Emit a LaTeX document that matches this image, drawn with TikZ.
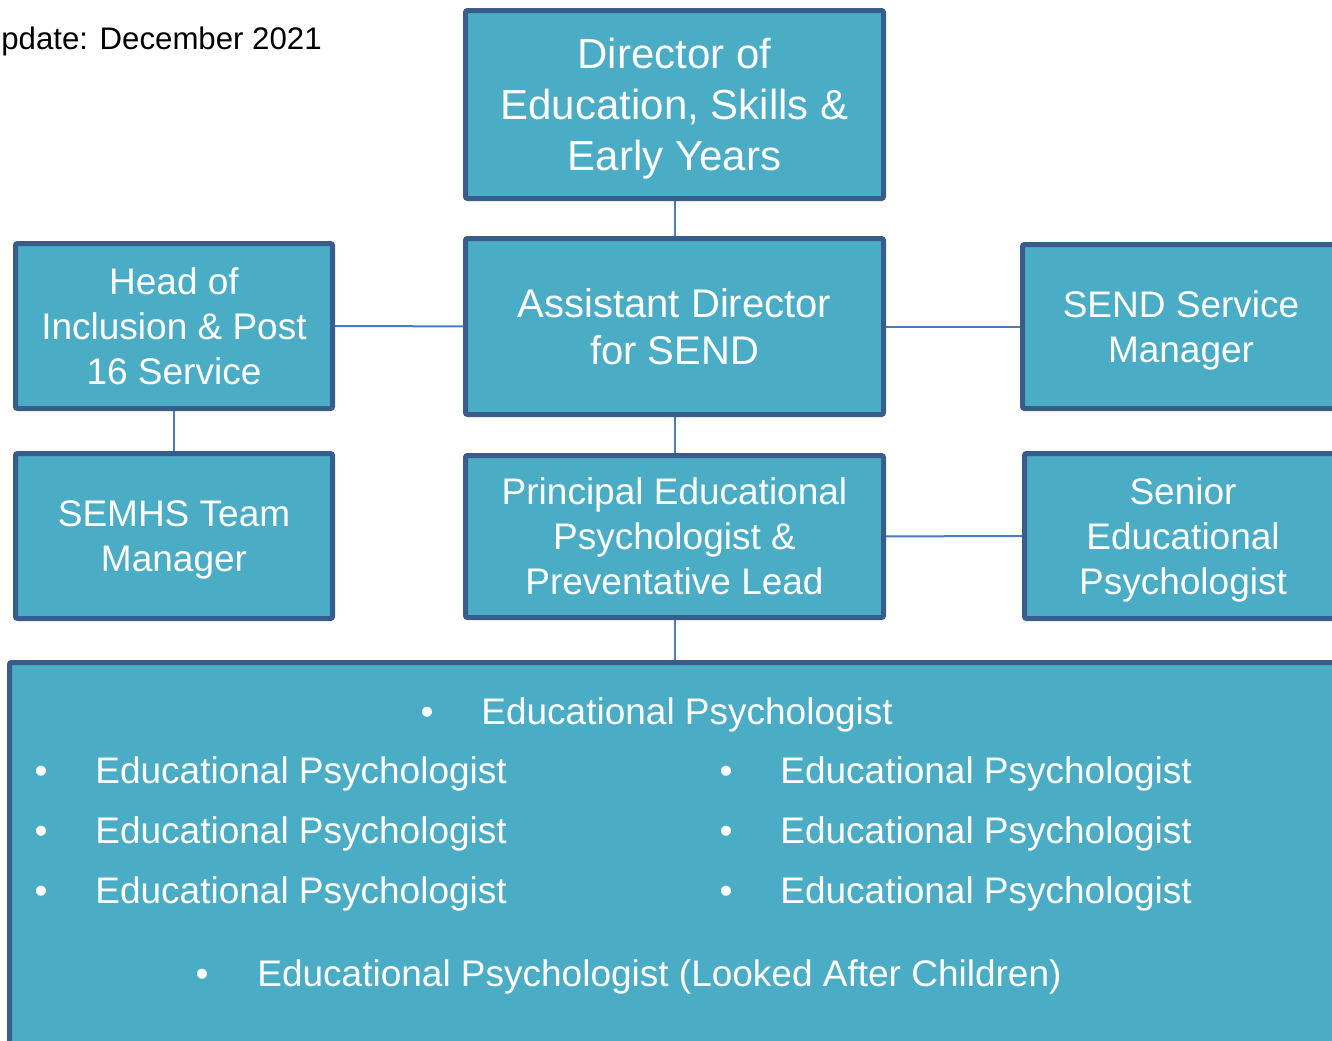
\documentclass[tikz,border=0pt]{standalone}
\usepackage{fontspec}
\setmainfont{Liberation Sans}
\usepackage{xcolor}
\usepackage{tikz}
\usetikzlibrary{positioning, calc}

\definecolor{postfill}{RGB}{75,172,198}
\definecolor{postline}{RGB}{56,93,138}
\definecolor{linkline}{RGB}{74,126,187}

\begin{document}
\begin{tikzpicture}[
    x=0.5pt, y=-0.5pt,
    every node/.style={text=white, inner sep=0pt},
    post/.style={rectangle, draw=postline, fill=postfill, line width=2.5pt, rounded corners=1pt, align=center, text depth=0pt, font=\fontsize{18.5}{22.5}\selectfont},
    link/.style={draw=linkline, line width=1pt},
    item/.style={anchor=base west, font=\fontsize{18.5}{22}\selectfont},
    dot/.style={anchor=base, font=\fontsize{18.5}{22}\selectfont},
]
\useasboundingbox (0,0) rectangle (1332,1040);
\clip (0,0) rectangle (1332,1040);

% date note, cut at the left edge
\node[anchor=base west, text=black, font=\fontsize{15.6}{19}\selectfont] (date) at (1,49) {pdate: December 2021};

% posts
\node[post, minimum width=209pt, minimum height=94pt, font=\fontsize{21}{25.5}\selectfont] (dir) at (674.5,104.5) {Director of\\Education, Skills \&\\Early Years};
\node[post, minimum width=209pt, minimum height=88pt, font=\fontsize{20}{23.5}\selectfont] (asst) at (674.5,326.5) {Assistant Director\\for SEND};
\node[post, minimum width=158.5pt, minimum height=82.5pt] (head) at (174,326) {Head of\\Inclusion \& Post\\16 Service};
\node[post, minimum width=158.5pt, minimum height=82pt] (send) at (1181,326.5) {SEND Service\\Manager};
\node[post, minimum width=158.5pt, minimum height=82.5pt] (semhs) at (174,536) {SEMHS Team\\Manager};
\node[post, minimum width=209pt, minimum height=81pt] (pep) at (674.5,536.5) {Principal Educational\\Psychologist \&\\Preventative Lead};
\node[post, minimum width=158.5pt, minimum height=82.5pt] (senior) at (1183,536) {Senior\\Educational\\Psychologist};
\node[post, minimum width=668pt, minimum height=200pt] (team) at (677.5,862.5) {};

% reporting lines
\draw[link] (dir) -- (asst);
\draw[link] (head) -- (asst);
\draw[link] (asst) -- (send);
\draw[link] (head) -- (semhs);
\draw[link] (asst) -- (pep);
\draw[link] (pep) -- (senior);
\draw[link] (pep.south) -- (pep.south |- team.north);

% team members
\node[dot] (b0) at (427,724) {•};
\node[item] (ep0) at (481,724) {Educational Psychologist};
\foreach \y [count=\i] in {783,843,903} {
    \node[dot] (bl\i) at (41,\y) {•};
    \node[item] (epl\i) at (95,\y) {Educational Psychologist};
    \node[dot] (br\i) at (726,\y) {•};
    \node[item] (epr\i) at (780,\y) {Educational Psychologist};
}
\node[dot] (b9) at (202,986) {•};
\node[item] (lac) at (257,986) {Educational Psychologist (Looked After Children)};
\end{tikzpicture}
\end{document}
